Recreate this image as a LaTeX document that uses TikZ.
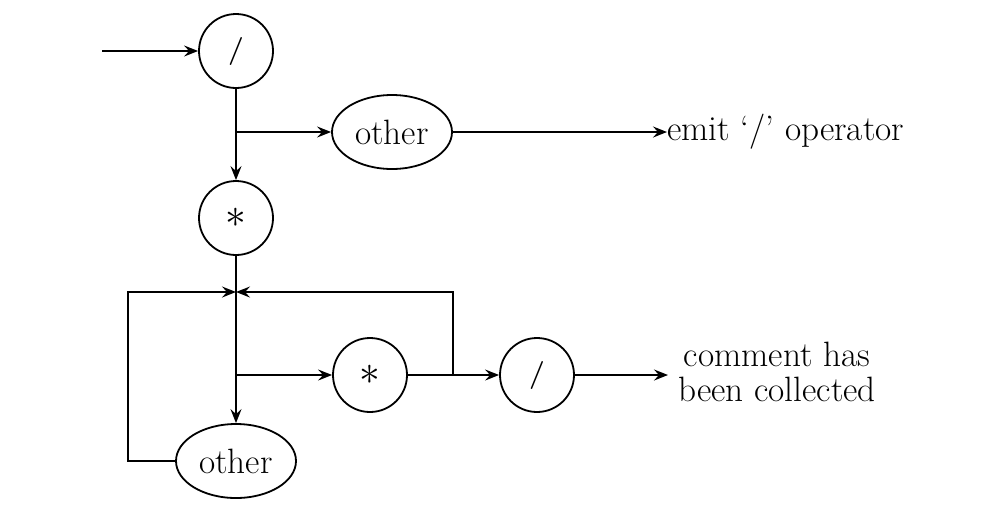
\documentclass[tikz,border=0pt]{standalone}
\usetikzlibrary{arrows.meta,shapes.geometric}
\begin{document}
\begin{tikzpicture}[x=0.5pt,y=-0.5pt,
  every node/.style={font=\fontsize{17.6}{17.5}\selectfont},
  state/.style={draw,circle,line width=0.9pt,minimum size=37pt,inner sep=0pt},
  oval/.style={draw,ellipse,line width=0.9pt,minimum width=60pt,minimum height=37pt,inner sep=0pt},
  conn/.style={line width=0.9pt},
  arr/.style={conn,-{Stealth[length=7pt,width=5.5pt,inset=2.5pt]}}]
\useasboundingbox (0,0) rectangle (994,515);
\node[state] (s1) at (236,51) {\fontsize{14}{14}\selectfont\bfseries/};
\node[oval] (o1) at (392,132) {other};
\node[state] (s2) at (236,218) {\fontsize{20}{20}\selectfont$\ast$};
\node[state] (s3) at (370,375) {\fontsize{20}{20}\selectfont$\ast$};
\node[state] (s4) at (537,375) {\fontsize{14}{14}\selectfont\bfseries/};
\node[oval] (o2) at (236,461) {other};
\node[anchor=west,inner sep=0pt] (t1) at (667,132) {emit `/' operator};
\node[align=center,inner sep=0pt] (t2) at (777,372) {comment has\\been collected};
\coordinate (start) at (102,51);
\coordinate (j1) at (236,132);
\coordinate (j2) at (236,292);
\coordinate (j3) at (236,375);
\coordinate (L) at (128,292);
\coordinate (R) at (453,292);
\coordinate (tip2) at (668,375);
\draw[arr] (start) -- (s1.west);
\draw[arr] (s1.south) -- (s2.north);
\draw[arr] (j1) -- (o1.west);
\draw[arr] (o1.east) -- (t1.west);
\draw[arr] (s2.south) -- (o2.north);
\draw[arr] (j3) -- (s3.west);
\draw[arr] (s3.east) -- (s4.west);
\draw[arr] (s4.east) -- (tip2);
\draw[arr] (s3.east -| R) -- (R) -- (j2);
\draw[arr] (o2.west) -| (L) -- (j2);
\end{tikzpicture}
\end{document}
